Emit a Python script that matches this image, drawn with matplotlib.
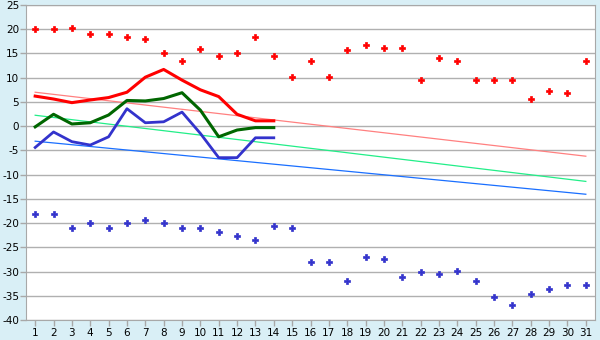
import numpy as np
import matplotlib.pyplot as plt

plt.rcParams['axes.unicode_minus'] = False

days = list(range(1, 32))

# record highs / lows per day
rec_max = [20.0, 20.0, 20.2, 19.0, 19.0, 18.3, 17.9, 15.0, 13.4, 16.0,
           14.4, 15.0, 18.3, 14.4, 10.1, 13.4, 10.1, 15.7, 16.7, 16.1,
           16.1, 9.5, 14.0, 13.4, 9.5, 9.5, 9.5, 5.5, 7.2, 6.8, 13.4]
rec_min = [-18.2, -18.2, -21.1, -20.0, -21.1, -20.0, -19.4, -20.0, -21.1, -21.1,
           -21.9, -22.7, -23.5, -20.5, -21.1, -28.1, -28.1, -32.0, -27.1, -27.5,
           -31.2, -30.1, -30.6, -29.9, -32.0, -35.3, -37.0, -34.7, -33.5, -32.8, -32.8]

# this month so far (days 1-14)
days_cur = list(range(1, 15))
t_max = [6.2, 5.6, 4.85, 5.4, 5.9, 7.0, 10.1, 11.7, 9.5, 7.5, 6.1, 2.45, 1.1, 1.1]
t_mean = [-0.15, 2.45, 0.45, 0.7, 2.3, 5.3, 5.2, 5.7, 6.9, 3.3, -2.2, -0.8, -0.3, -0.3]
t_min = [-4.4, -1.2, -3.2, -3.9, -2.2, 3.6, 0.7, 0.9, 2.9, -1.5, -6.5, -6.5, -2.4, -2.4]

# normals (start and end of month)
norm_days = [1, 31]
norm_max = [7.0, -6.2]
norm_mean = [2.25, -11.4]
norm_min = [-3.1, -14.05]

bg = '#d9eff6'
fig = plt.figure(figsize=(6, 3.4), dpi=100, facecolor=bg)
ax = fig.add_axes([26 / 600, 1 - 320 / 340, 569 / 600, 315 / 340])
ax.set_facecolor('white')

ax.plot(norm_days, norm_max, color='#ff8080', lw=0.9)
ax.plot(norm_days, norm_mean, color='#22ee88', lw=0.9)
ax.plot(norm_days, norm_min, color='#1a6fff', lw=0.9)

ax.plot(days_cur, t_max, color='#ff0000', lw=2.2)
ax.plot(days_cur, t_mean, color='#006600', lw=2.2)
ax.plot(days_cur, t_min, color='#3333cc', lw=2.0)

ax.plot(days, rec_max, ls='none', marker='P', ms=4, color='#ff0000', mec='#ff0000', mew=0.5)
ax.plot(days, rec_min, ls='none', marker='P', ms=4, color='#3333cc', mec='#3333cc', mew=0.5)

ax.set_xlim(0.5, 31.5)
ax.set_ylim(-40, 25)
ax.set_xticks(days)
ax.set_yticks(range(-40, 26, 5))
ax.yaxis.grid(True, color='#b0b0b0', lw=1.0)
ax.set_axisbelow(True)
for s in ax.spines.values():
    s.set_color('#a8a8a8')
ax.tick_params(colors='#a8a8a8', labelcolor='black', labelsize=7.5, length=4, width=1)
ax.tick_params(axis='x', pad=2)
ax.tick_params(axis='y', pad=1)

fig.savefig('out.png', dpi=100, facecolor=bg)
